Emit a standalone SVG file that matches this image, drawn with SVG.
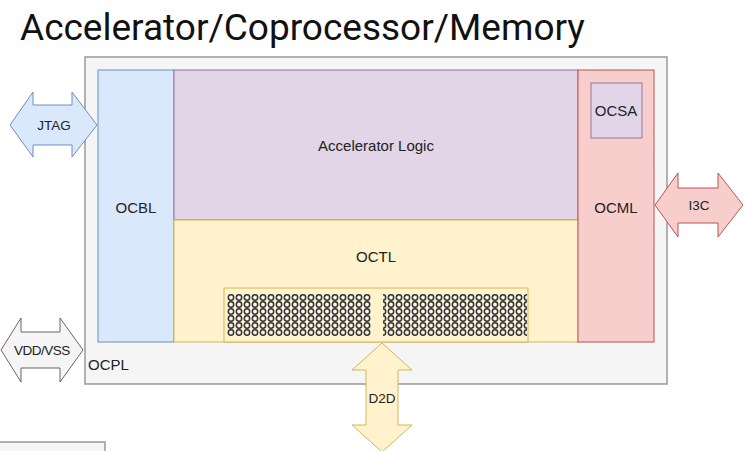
<svg xmlns="http://www.w3.org/2000/svg" width="745" height="451" viewBox="0 0 745 451">
  <style>
    .lbl { font-family: "Liberation Sans", Arial, sans-serif; font-size: 15px; fill: #222; text-anchor: middle; dominant-baseline: central; }
    .small { font-size: 13.5px; }
    .title { font-family: Roboto, "Liberation Sans", sans-serif; font-size: 37px; fill: #111; }
    .blue { fill: #dae8fc; stroke: #6c8ebf; stroke-width: 1; }
    .purple { fill: #e1d5e7; stroke: #9673a6; stroke-width: 1; }
    .yellow { fill: #fff2cc; stroke: #d6b656; stroke-width: 1; }
    .red { fill: #f8cecc; stroke: #b85450; stroke-width: 1; }
    .grey { fill: #f5f5f5; stroke: #666666; stroke-width: 1; }
  </style>
  <defs>
    <!-- ball grid for the die-to-die bump field -->
    <pattern id="bumps" patternUnits="userSpaceOnUse" x="227" y="294" width="8" height="7">
      <circle cx="4" cy="3.5" r="2.7" fill="#f4f4f4" stroke="#333333" stroke-width="1.5"/>
    </pattern>
  </defs>

  <rect width="745" height="451" fill="#ffffff"/>

  <text class="title" x="20" y="40">Accelerator/Coprocessor/Memory</text>

  <g id="ocpl">
    <rect x="85" y="57" width="582" height="327" fill="#f5f5f5" stroke="#999999" stroke-width="1.5"/>
    <text class="lbl" x="88" y="364" style="text-anchor:start">OCPL</text>
  </g>

  <g id="ocbl">
    <rect class="blue" x="98" y="70" width="76" height="272"/>
    <text class="lbl" x="136" y="207">OCBL</text>
  </g>

  <g id="accel-logic">
    <rect class="purple" x="174" y="70" width="404" height="150"/>
    <text class="lbl" x="376" y="145">Accelerator Logic</text>
  </g>

  <g id="octl">
    <rect class="yellow" x="174" y="220" width="404" height="122"/>
    <text class="lbl" x="376" y="256">OCTL</text>
  </g>

  <g id="bump-field">
    <rect class="yellow" x="224" y="288" width="304" height="54"/>
    <rect x="227" y="294" width="144" height="42" fill="url(#bumps)"/>
    <rect x="383" y="294" width="144" height="42" fill="url(#bumps)"/>
  </g>

  <g id="ocml">
    <rect class="red" x="578" y="70" width="76" height="272"/>
    <text class="lbl" x="616" y="207">OCML</text>
  </g>

  <g id="ocsa">
    <rect class="purple" x="591" y="83" width="51" height="55"/>
    <text class="lbl" x="616" y="110">OCSA</text>
  </g>

  <g id="legend-box">
    <rect x="-2" y="442" width="107" height="20" fill="#f5f5f5" stroke="#999999" stroke-width="1.5"/>
  </g>

  <g id="connectors">
    <g id="jtag">
      <polygon class="blue" points="10,125 33,92 33,105 72,105 72,92 97,125 72,157 72,145 33,145 33,157"/>
      <text class="lbl small" x="54" y="125">JTAG</text>
    </g>
    <g id="i3c">
      <polygon class="red" points="655,205 678,173 678,188 718,188 718,173 743,205 718,237 718,223 678,223 678,237"/>
      <text class="lbl small" x="699" y="205">I3C</text>
    </g>
    <g id="vdd-vss">
      <polygon class="grey" points="1,350 21,318 21,332 60,332 60,318 83,350 60,382 60,368 21,368 21,382"/>
      <text class="lbl small" x="42" y="350" style="letter-spacing:-0.5px">VDD/VSS</text>
    </g>
    <g id="d2d">
      <polygon class="yellow" points="382,343 412,370 398,370 398,425 412,425 382,452 352,425 366,425 366,370 352,370"/>
      <text class="lbl small" x="382" y="398">D2D</text>
    </g>
  </g>
</svg>
